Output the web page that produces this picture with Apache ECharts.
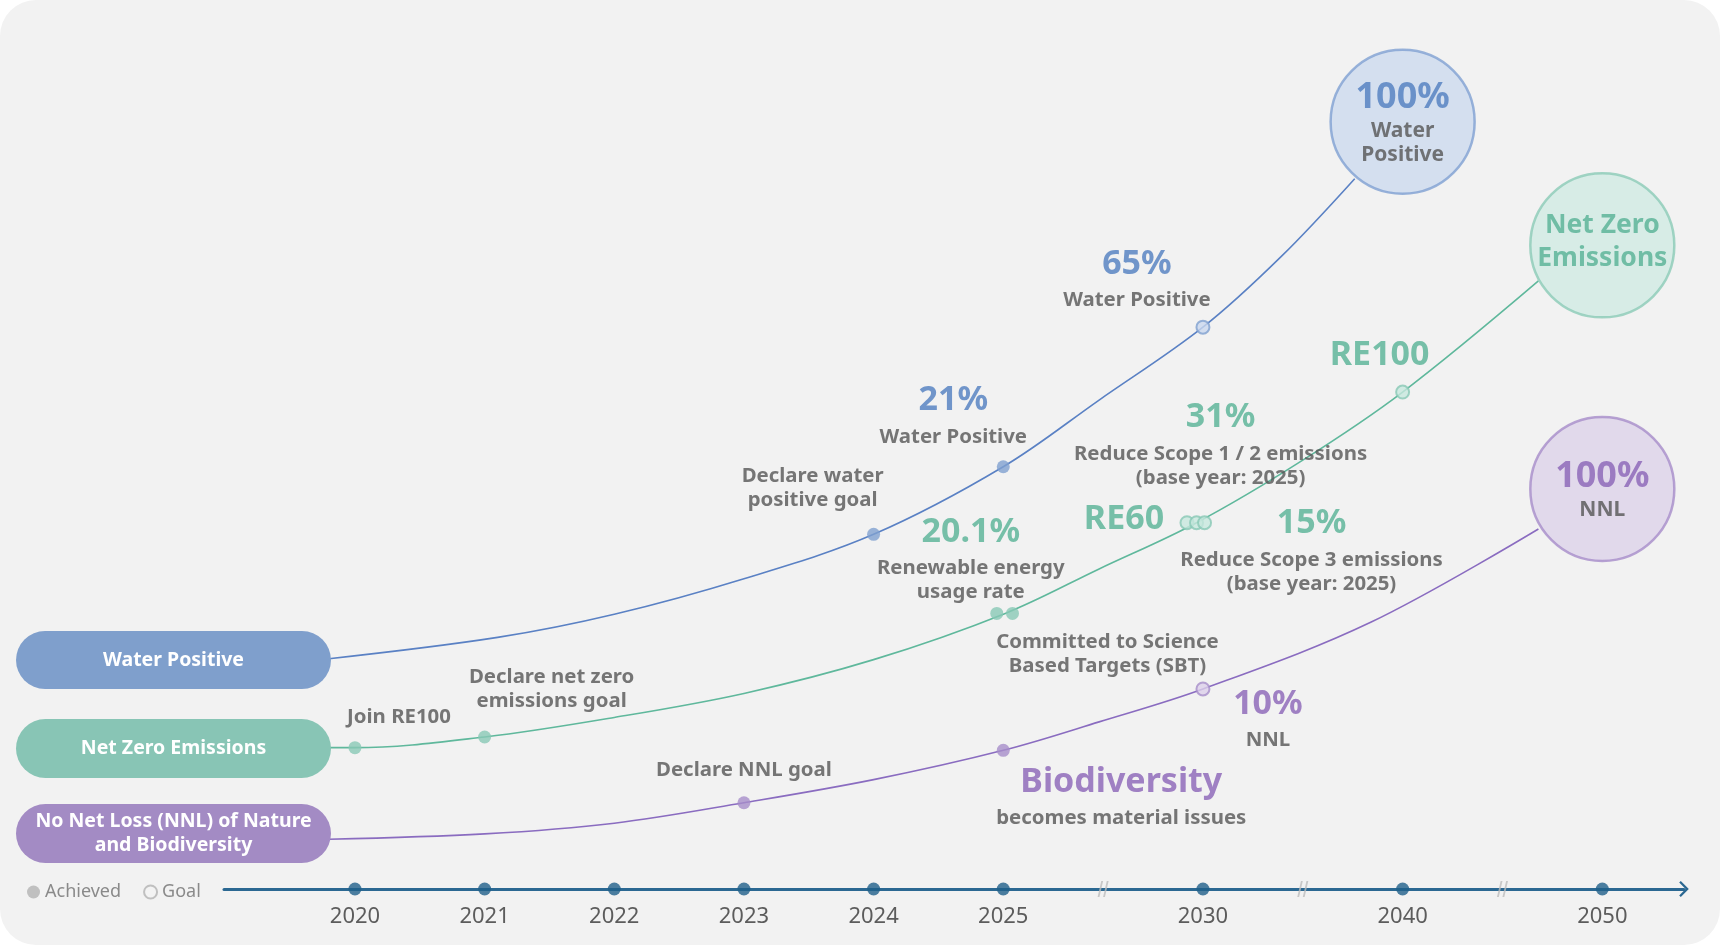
<!DOCTYPE html>
<html>
<head>
<meta charset="utf-8">
<title>Sustainability roadmap</title>
<script src="https://cdn.jsdelivr.net/npm/echarts@6/dist/echarts.min.js"></script>
<style>
  html, body { margin: 0; padding: 0; background: #ffffff; }
  #chart { width: 1720px; height: 945px; background: #f2f2f2; border-radius: 36px; }
</style>
</head>
<body>
<div id="chart"></div>
<script>
// timeline: 2020-2025 one slot per year, after that each break is GAP slots wide
const GAP = 1.54;
const years = [2020, 2021, 2022, 2023, 2024, 2025, 2030, 2040, 2050];

const tracks = ["Water Positive", "Net Zero Emissions", "No Net Loss (NNL) of Nature\nand Biodiversity"];

// curves: [year, level]  (level 0-100 above the timeline)
const waterCurve = [
  [2019.8, 25.9], [2021.1, 28.3], [2022, 30.9], [2023, 34.9], [2024, 39.9],
  [2025, 47.5], [2027.4, 55.0], [2030, 63.2], [2033.9, 71.1], [2037.6, 79.9],
];
const netZeroCurve = [
  [2019.8, 15.9], [2020, 15.9], [2021, 17.1], [2022, 19.3], [2023, 22.0], [2024, 25.8],
  [2025.05, 31.0], [2027.4, 36.0], [2029.84, 41.2], [2034.9, 48.1], [2040, 55.9], [2046.8, 68.4],
];
const nnlCurve = [
  [2019.8, 5.6], [2021, 6.2], [2022, 7.4], [2023, 9.7], [2024, 12.3],
  [2025, 15.6], [2027.4, 18.8], [2030, 22.5], [2038.4, 30.0], [2046.8, 40.5],
];

// milestones: [track, year, level, status, headline, caption]
const milestones = [
  [0, 2024, 39.9, "achieved", "", "Declare water\npositive goal"],
  [0, 2025, 47.5, "achieved", "21%", "Water Positive"],
  [0, 2030, 63.2, "goal", "65%", "Water Positive"],
  [1, 2020, 15.9, "achieved", "", "Join RE100"],
  [1, 2021, 17.1, "achieved", "", "Declare net zero\nemissions goal"],
  [1, 2024.95, 31.0, "achieved", "20.1%", "Renewable energy\nusage rate"],
  [1, 2025.23, 31.0, "achieved", "", "Committed to Science\nBased Targets (SBT)"],
  [1, 2029.6, 41.2, "goal", "RE60", ""],
  [1, 2029.84, 41.2, "goal", "31%", "Reduce Scope 1 / 2 emissions\n(base year: 2025)"],
  [1, 2030.08, 41.2, "goal", "15%", "Reduce Scope 3 emissions\n(base year: 2025)"],
  [1, 2040, 55.9, "goal", "RE100", ""],
  [2, 2023, 9.7, "achieved", "", "Declare NNL goal"],
  [2, 2025, 15.6, "achieved", "Biodiversity", "becomes material issues"],
  [2, 2030, 22.5, "goal", "10%", "NNL"],
];

// end goals: [track, year, level, headline, caption]
const goalBubbles = [
  [0, 2040, 86.3, "100%", "Water\nPositive"],
  [1, 2050, 72.4, "", "Net Zero\nEmissions"],
  [2, 2050, 45.0, "100%", "NNL"],
];

// label placement (px from the dot), same order as milestones
const noteOffsets = [
  [-61, -46], [-50, -54], [-66, -51], [44, -30], [67, -48], [-26, -57], [95, 41],
  [-63, -3], [24, -81], [107, 25], [-23, -37], [0, -33], [118, 44], [65, 27],
];

const FONT = "Noto Sans";
const palette = [
  { line: "#5a81c4", dot: "#80a0d0", light: "#c9d7ee", text: "#4f7dbf", pill: "#7f9fcc", bubble: "#ccd9ee", ring: "#80a0d2" },
  { line: "#5fb89c", dot: "#88c8b5", light: "#c7e7dd", text: "#56b195", pill: "#88c5b5", bubble: "#cfeae2", ring: "#8bcab6" },
  { line: "#8a6cc0", dot: "#a68dc9", light: "#dcd0ea", text: "#8a63b6", pill: "#a38bc4", bubble: "#dcd2e8", ring: "#a68cc9" },
];

function toSlot(year) {
  if (year <= 2025) return year - 2020;
  if (year <= 2030) return 5 + (year - 2025) / 5 * GAP;
  if (year <= 2040) return 5 + GAP + (year - 2030) / 10 * GAP;
  return 5 + 2 * GAP + (year - 2040) / 10 * GAP;
}

function yearAt(slot) {
  const hit = years.find((y) => Math.abs(toSlot(y) - slot) < 0.01);
  return hit ? String(hit) : "";
}

function curveSeries(points, track) {
  return {
    type: "line",
    smooth: 0.35,
    symbol: "none",
    z: 2,
    silent: true,
    lineStyle: { color: palette[track].line, width: 1.6 },
    data: points.map(([y, v]) => [toSlot(y), v]),
  };
}

function noteLabel(row, i) {
  const [track, , , , head, cap] = row;
  const lines = [];
  if (head) lines.push(`{big|${head}}`);
  if (cap) cap.split("\n").forEach((l) => lines.push(`{cap|${l}}`));
  return {
    show: true,
    position: "inside",
    offset: noteOffsets[i],
    align: "center",
    verticalAlign: "middle",
    formatter: lines.join("\n"),
    rich: {
      big: { fontFamily: FONT, fontSize: 34, fontWeight: "bold", color: palette[track].text, lineHeight: 48, align: "center" },
      cap: { fontFamily: FONT, fontSize: 20.4, fontWeight: "bold", color: "#555555", lineHeight: 24, align: "center" },
    },
  };
}

const milestoneData = milestones.map((row, i) => {
  const [track, year, level, status] = row;
  const c = palette[track];
  return {
    value: [toSlot(year), level],
    itemStyle: status === "achieved"
      ? { color: c.dot }
      : { color: c.light, borderColor: c.dot, borderWidth: 2 },
    label: noteLabel(row, i),
  };
});

const bubbleData = goalBubbles.map(([track, year, level, head, cap]) => {
  const c = palette[track];
  const lines = [];
  if (head) {
    lines.push(`{pct|${head}}`);
    cap.split("\n").forEach((l) => lines.push(`{sub|${l}}`));
  } else {
    cap.split("\n").forEach((l) => lines.push(`{name|${l}}`));
  }
  return {
    value: [toSlot(year), level],
    itemStyle: { color: c.bubble, borderColor: c.ring, borderWidth: 2.5 },
    label: {
      show: true,
      position: "inside",
      offset: head ? [0, 0] : [0, -3],
      formatter: lines.join("\n"),
      rich: {
        pct: { fontFamily: FONT, fontSize: 36, fontWeight: "bold", color: c.text, lineHeight: 42, align: "center" },
        sub: { fontFamily: FONT, fontSize: 21, fontWeight: "bold", color: "#555555", lineHeight: 24, align: "center" },
        name: { fontFamily: FONT, fontSize: 26.5, fontWeight: "bold", color: c.text, lineHeight: 33, align: "center" },
      },
    },
  };
});

const breakSlots = [
  (toSlot(2025) + toSlot(2030)) / 2,
  (toSlot(2030) + toSlot(2040)) / 2,
  (toSlot(2040) + toSlot(2050)) / 2,
];

// pills on the left, one per track
const pillBoxes = [[16, 631, 315, 58], [16, 719, 315, 59], [16, 804, 315, 59]];
const pills = [];
tracks.forEach((name, i) => {
  const [x, y, w, h] = pillBoxes[i];
  pills.push({
    type: "rect",
    shape: { x, y, width: w, height: h, r: h / 2 },
    style: { fill: palette[i].pill },
    z: 5,
  });
  pills.push({
    type: "text",
    x: x + w / 2,
    y: y + h / 2,
    z: 6,
    style: {
      text: name,
      fill: "#ffffff",
      font: `bold 19.5px "${FONT}"`,
      lineHeight: 24,
      align: "center",
      verticalAlign: "middle",
    },
  });
});

const chart = echarts.init(document.getElementById("chart"));
chart.setOption({
  backgroundColor: "transparent",
  animation: false,
  textStyle: { fontFamily: FONT },
  grid: { left: 224, right: 36, top: 0, bottom: 56, containLabel: false },
  legend: {
    data: ["Achieved", "Goal"],
    left: 22,
    top: 878,
    icon: "circle",
    itemWidth: 13,
    itemHeight: 13,
    itemGap: 22,
    selectedMode: false,
    textStyle: { color: "#8a8a8a", fontSize: 18, fontFamily: FONT },
  },
  xAxis: {
    type: "value",
    min: -1.01,
    max: 10.25,
    splitLine: { show: false },
    axisTick: { show: false },
    axisLine: {
      show: true,
      onZero: false,
      lineStyle: { color: "#2b6892", width: 3 },
      symbol: ["none", "path://M0,10 L10,0 L20,10 L18,12 L10,4 L2,12 Z"],
      symbolSize: [16, 10],
    },
    axisLabel: {
      customValues: years.map(toSlot),
      formatter: (v) => yearAt(v),
      color: "#5c5c5c",
      fontSize: 22,
      fontFamily: FONT,
      margin: 17,
    },
  },
  yAxis: { type: "value", min: 0, max: 100, show: false },
  graphic: pills,
  series: [
    curveSeries(waterCurve, 0),
    curveSeries(netZeroCurve, 1),
    curveSeries(nnlCurve, 2),
    {
      type: "scatter",
      symbolSize: 13,
      z: 4,
      clip: false,
      data: milestoneData,
    },
    {
      type: "scatter",
      symbolSize: 144,
      z: 3,
      clip: false,
      data: bubbleData,
    },
    {
      // year dots on the timeline
      type: "scatter",
      symbolSize: 13,
      z: 6,
      clip: false,
      itemStyle: { color: "#1f5f8a" },
      data: years.map((y) => [toSlot(y), 0]),
    },
    {
      // scale breaks
      type: "scatter",
      symbol: "path://M4,0 L6,0 L2,16 L0,16 Z M10,0 L12,0 L8,16 L6,16 Z",
      symbolSize: [11, 16],
      z: 6,
      clip: false,
      itemStyle: { color: "#bdbdbd" },
      data: breakSlots.map((s) => [s, 0]),
    },
    { name: "Achieved", type: "scatter", data: [], itemStyle: { color: "#b3b3b3" } },
    { name: "Goal", type: "scatter", data: [], itemStyle: { color: "#f2f2f2", borderColor: "#b3b3b3", borderWidth: 1.5 } },
  ],
});
</script>
</body>
</html>
